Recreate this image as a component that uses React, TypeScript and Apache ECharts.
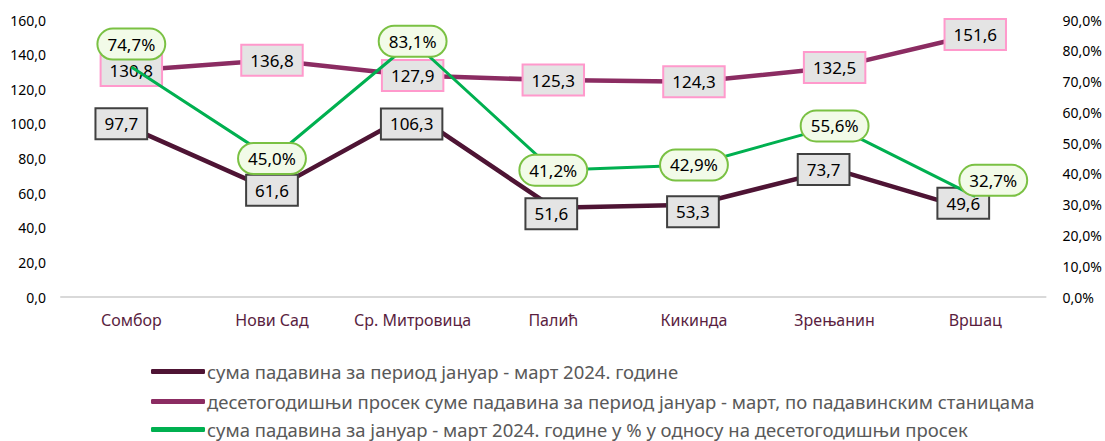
import React, { useEffect, useRef } from "react";
import * as echarts from "echarts";

const categories = ["Сомбор", "Нови Сад", "Ср. Митровица", "Палић", "Кикинда", "Зрењанин", "Вршац"];
const sum2024 = [97.7, 61.6, 106.3, 51.6, 53.3, 73.7, 49.6];
const tenYearAvg = [130.8, 136.8, 127.9, 125.3, 124.3, 132.5, 151.6];
const percentOfAvg = [74.7, 45.0, 83.1, 41.2, 42.9, 55.6, 32.7];

const seriesNames = [
  "сума падавина за период јануар - март 2024. године",
  "десетогодишњи просек суме падавина за период јануар - март, по падавинским станицама",
  "сума падавина за јануар - март 2024. године у % у односу на десетогодишњи просек",
];

const sumOffsets: [number, number][] = [[-10, -4], [0, 0], [-1, 11], [-2, 6], [-1, 7], [-11, 0], [-12, -8]];
const pctOffsets: [number, number][] = [[0, -23], [0, 0], [0, 0], [0, 0], [0, 0], [0, 0], [18, -16]];

const FONT = "'Noto Sans', sans-serif";
const fmt = (v: number, d = 1) => v.toFixed(d).replace(".", ",");

export default function App() {
  const ref = useRef<HTMLDivElement>(null);
  useEffect(() => {
    if (!ref.current) return;
    const chart = echarts.init(ref.current, null, { renderer: "svg" });
    const labelBase = {
      show: true,
      fontFamily: FONT,
      fontSize: 17,
      color: "#000",
      padding: [7, 8, 5, 8],
    };
    const legendTops = [357, 387, 415];
    chart.setOption({
      animation: false,
      textStyle: { fontFamily: FONT },
      grid: { left: 61, right: 59, top: 20, bottom: 144 },
      legend: seriesNames.map((n, i) => ({
        orient: "horizontal",
        left: 146,
        top: legendTops[i],
        itemWidth: 54,
        itemHeight: 5,
        icon: "roundRect",
        textStyle: { fontFamily: FONT, fontSize: 18.5, color: "#595959", padding: [0, 0, 0, -3] },
        data: [n],
      })),
      xAxis: {
        type: "category",
        data: categories,
        axisLine: { lineStyle: { color: "#D9D9D9", width: 2 } },
        axisTick: { show: false },
        axisLabel: { color: "#5A1E3F", fontSize: 16, margin: 15, interval: 0, fontFamily: FONT },
      },
      yAxis: [
        {
          type: "value",
          min: 0,
          max: 160,
          interval: 20,
          splitLine: { show: false },
          axisLine: { show: false },
          axisLabel: { color: "#000", fontSize: 14, margin: 15, fontFamily: FONT, formatter: (v: number) => fmt(v) },
        },
        {
          type: "value",
          min: 0,
          max: 90,
          interval: 10,
          splitLine: { show: false },
          axisLine: { show: false },
          axisLabel: { color: "#000", fontSize: 14, margin: 17, fontFamily: FONT, formatter: (v: number) => fmt(v) + "%" },
        },
      ],
      series: [
        {
          name: seriesNames[0],
          type: "line",
          yAxisIndex: 0,
          symbol: "circle",
          symbolSize: 0.1,
          showSymbol: true,
          lineStyle: { color: "#4E1434", width: 4.5 },
          itemStyle: { color: "#4E1434" },
          z: 3,
          data: sum2024.map((v, i) => ({
            value: v,
            label: {
              ...labelBase,
              position: "inside",
              offset: sumOffsets[i],
              backgroundColor: "#E4E4E4",
              borderColor: "#404040",
              borderWidth: 2,
              formatter: () => fmt(v),
            },
          })),
        },
        {
          name: seriesNames[1],
          type: "line",
          yAxisIndex: 0,
          symbol: "circle",
          symbolSize: 0.1,
          showSymbol: true,
          lineStyle: { color: "#8B2C62", width: 4.5 },
          itemStyle: { color: "#8B2C62" },
          z: 2,
          data: tenYearAvg.map((v) => ({
            value: v,
            label: {
              ...labelBase,
              position: "inside",
              backgroundColor: "#E4E4E4",
              borderColor: "#FF99CC",
              borderWidth: 2,
              formatter: () => fmt(v),
            },
          })),
        },
        {
          name: seriesNames[2],
          type: "line",
          yAxisIndex: 1,
          symbol: "circle",
          symbolSize: 0.1,
          showSymbol: true,
          lineStyle: { color: "#00B050", width: 3 },
          itemStyle: { color: "#00B050" },
          z: 4,
          data: percentOfAvg.map((v, i) => ({
            value: v,
            label: {
              ...labelBase,
              position: "inside",
              offset: pctOffsets[i],
              padding: [7, 9, 5, 9],
              backgroundColor: "#F2FBE8",
              borderColor: "#7AC143",
              borderWidth: 2,
              borderRadius: 17,
              formatter: () => fmt(v) + "%",
            },
          })),
        },
      ],
    });
    return () => chart.dispose();
  }, []);
  return <div ref={ref} style={{ width: 1105, height: 441, position: "absolute", left: 0, top: 0 }} />;
}
